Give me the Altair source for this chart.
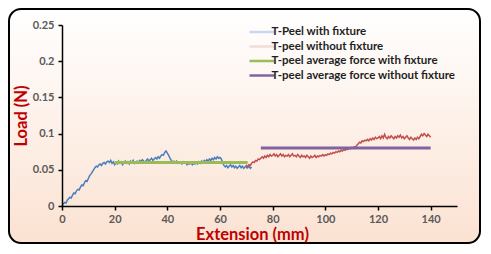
import altair as alt
import pandas as pd

# ---- data ----
blue_start, blue_step = 0.0, 0.5
blue_load = [
    0.000, 0.003, 0.005, 0.004, 0.008, 0.010, 0.012, 0.011, 0.015, 0.018,
    0.017, 0.021, 0.023, 0.022, 0.026, 0.029, 0.028, 0.032, 0.035, 0.034,
    0.038, 0.042, 0.044, 0.047, 0.050, 0.053, 0.055, 0.054, 0.057, 0.058,
    0.056, 0.059, 0.060, 0.058, 0.061, 0.062, 0.060, 0.063, 0.059, 0.061,
    0.057,
    0.060, 0.058, 0.062, 0.059, 0.061, 0.057, 0.060, 0.062, 0.059, 0.061,
    0.058, 0.062, 0.060, 0.063, 0.059, 0.061, 0.062, 0.060, 0.063, 0.061,
    0.064, 0.062, 0.060, 0.063, 0.065, 0.062, 0.064, 0.066, 0.063, 0.065,
    0.067, 0.065, 0.068, 0.066, 0.069, 0.071, 0.070, 0.074, 0.076, 0.073,
    0.070, 0.066, 0.063, 0.061, 0.062, 0.060, 0.062, 0.059, 0.061, 0.060,
    0.058, 0.061, 0.059, 0.060, 0.057, 0.059, 0.058, 0.060, 0.057, 0.059,
    0.058, 0.060, 0.058, 0.061, 0.059, 0.062, 0.060, 0.063, 0.061, 0.064,
    0.062, 0.065, 0.063, 0.066, 0.064, 0.067, 0.065, 0.068, 0.066, 0.067,
    0.065, 0.060, 0.056, 0.054, 0.056, 0.053, 0.055, 0.057, 0.054, 0.056,
    0.053, 0.055, 0.052, 0.054, 0.056, 0.053, 0.055, 0.052, 0.054, 0.056,
    0.053, 0.055, 0.052, 0.054,
]

red_start, red_step = 70.0, 0.5
red_load = [
    0.052, 0.055, 0.057, 0.056, 0.059, 0.061, 0.060, 0.063, 0.062, 0.065,
    0.064, 0.066, 0.068, 0.066, 0.069, 0.067, 0.070, 0.068, 0.071, 0.069,
    0.070,
    0.072, 0.069, 0.071, 0.068, 0.070, 0.072, 0.069, 0.071, 0.068, 0.070,
    0.069, 0.071, 0.068, 0.070, 0.072, 0.069, 0.070, 0.068, 0.071, 0.069,
    0.067, 0.070, 0.068, 0.069, 0.067, 0.070, 0.068, 0.066, 0.069, 0.067,
    0.068, 0.070, 0.067, 0.069, 0.068, 0.070, 0.069, 0.071, 0.069, 0.071,
    0.070, 0.072, 0.071, 0.073, 0.072, 0.074, 0.073, 0.075, 0.074, 0.076,
    0.075, 0.077, 0.076, 0.078, 0.077, 0.079, 0.078, 0.080, 0.079, 0.081,
    0.080, 0.082, 0.081, 0.084, 0.086, 0.088, 0.087, 0.090, 0.089, 0.091,
    0.090, 0.092, 0.090, 0.093, 0.091, 0.094, 0.092, 0.095, 0.093, 0.094,
    0.096, 0.093, 0.097, 0.094, 0.099, 0.095, 0.093, 0.096, 0.094, 0.097,
    0.095, 0.093, 0.096, 0.094, 0.097, 0.095, 0.098, 0.094, 0.096, 0.093,
    0.095, 0.097, 0.094, 0.092, 0.095, 0.093, 0.091, 0.094, 0.092, 0.095,
    0.093, 0.096, 0.099, 0.097, 0.100, 0.098, 0.096, 0.099, 0.097, 0.095,
]

avg_names = ["T-peel average force with fixture", "T-peel average force without fixture"]
avg_x_start = [20.0, 75.5]
avg_x_end = [70.5, 140.0]
avg_load = [0.060, 0.080]

legend_names = ["T-Peel with fixture", "T-peel without fixture"] + avg_names
legend_colors = ["#C6D9F1", "#F2DCDB", "#9BBB59", "#8064A2"]

x_ticks = [0, 20, 40, 60, 80, 100, 120, 140]
y_ticks = [0, 0.05, 0.1, 0.15, 0.2, 0.25]

# ---- tables ----
blue_df = pd.DataFrame({"ext": [blue_start + i * blue_step for i in range(len(blue_load))],
                        "load": blue_load})
red_df = pd.DataFrame({"ext": [red_start + i * red_step for i in range(len(red_load))],
                       "load": red_load})
avg_df = pd.DataFrame({"name": avg_names, "x1": avg_x_start, "x2": avg_x_end, "load": avg_load})

FONT = "Lato"
xscale = alt.Scale(domain=[0, 150], nice=False)
yscale = alt.Scale(domain=[0, 0.25], nice=False)

x_axis = alt.Axis(values=x_ticks, title="Extension (mm)", grid=False, labelFlush=False,
                  zindex=2, titleX=190, labelOverlap=False)
y_axis = alt.Axis(values=y_ticks, title="Load (N)", grid=False, format="~g", zindex=2,
                  labelOverlap=False)

bg = alt.Chart(pd.DataFrame({"a": [0]})).mark_rect(
    fill=alt.Gradient(gradient="linear",
                      stops=[alt.GradientStop(offset=0, color="#FFFFFF"),
                             alt.GradientStop(offset=1, color="#FBE2D2")],
                      x1=0, x2=0, y1=0, y2=1),
    stroke="#000000", strokeWidth=2, cornerRadius=12,
).encode(x=alt.value(-53), x2=alt.value(418), y=alt.value(-16), y2=alt.value(218))

blue = alt.Chart(blue_df).mark_line(color="#4A7EBB", strokeWidth=1.5).encode(
    x=alt.X("ext:Q", scale=xscale, axis=x_axis),
    y=alt.Y("load:Q", scale=yscale, axis=y_axis),
)
red = alt.Chart(red_df).mark_line(color="#C0504D", strokeWidth=1.5).encode(
    x=alt.X("ext:Q", scale=xscale, axis=x_axis),
    y=alt.Y("load:Q", scale=yscale, axis=y_axis),
)
avg = alt.Chart(avg_df).mark_rule(strokeWidth=3).encode(
    x=alt.X("x1:Q", scale=xscale, axis=x_axis),
    x2="x2:Q",
    y=alt.Y("load:Q", scale=yscale, axis=y_axis),
    color=alt.Color("name:N",
                    scale=alt.Scale(domain=legend_names, range=legend_colors),
                    legend=alt.Legend(title=None, orient="none", legendX=193.5, legendY=0.5,
                                      symbolType="M-2.5,0L2.5,0", symbolSize=100,
                                      symbolStrokeWidth=2.5, labelFont=FONT,
                                      labelFontWeight="bold", labelFontSize=11.5,
                                      labelColor="#1F1F1F", rowPadding=2.5,
                                      labelOffset=3, labelLimit=400)),
)

chart = alt.layer(bg, blue, red, avg).properties(
    width=395, height=181,
    autosize=alt.AutoSizeParams(type="none"),
    padding={"left": 54, "top": 17, "right": 26, "bottom": 40},
    background="#FFFFFF",
).configure_view(stroke=None).configure_axis(
    domainColor="#000000", domainWidth=1.5, tickColor="#000000", tickWidth=1.5,
    tickSize=4, labelFont=FONT, labelFontWeight="bold", labelFontSize=11,
    labelColor="#595959", titleFont=FONT, titleFontWeight="bold",
    titleColor="#C00000", titleFontSize=16.5,
).configure_axisY(titlePadding=3, labelPadding=4).configure_axisX(titlePadding=2, labelPadding=3)

chart.save("out.html", embed_options={"renderer": "svg", "actions": False})
